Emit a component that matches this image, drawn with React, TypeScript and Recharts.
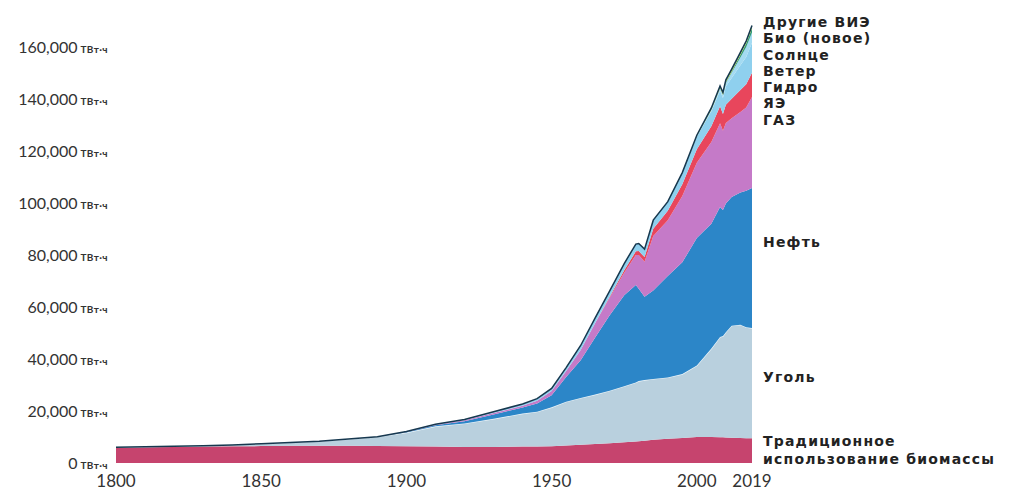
import { AreaChart, Area, XAxis, YAxis } from "recharts";

const years = [
  1800, 1810, 1820, 1830, 1840, 1850, 1860, 1870, 1880, 1890, 1900, 1910, 1920,
  1930, 1940, 1945, 1950, 1955, 1960, 1965, 1970, 1975, 1979, 1980, 1982, 1985,
  1990, 1995, 2000, 2005, 2008, 2009, 2010, 2012, 2015, 2017, 2019,
];

// TWh per source
const biomass = [
  6000, 6100, 6200, 6300, 6400, 6500, 6600, 6600, 6600, 6500, 6400, 6300, 6200,
  6200, 6300, 6300, 6400, 6700, 7000, 7300, 7600, 8000, 8300, 8400, 8600, 8900,
  9300, 9600, 10000, 10000, 9900, 9900, 9800, 9700, 9600, 9500, 9500,
];
const coal = [
  100, 150, 250, 350, 550, 900, 1300, 1800, 2600, 3600, 5300, 7800, 9000,
  10800, 12700, 13400, 15000, 16900, 18000, 19000, 20200, 21500, 22700, 23100,
  23300, 23400, 23600, 24600, 27500, 34000, 38600, 38900, 40500, 43100, 43600,
  42700, 42400,
];
const oil = [
  0, 0, 0, 0, 0, 0, 0, 0, 0, 0, 200, 400, 900, 1700, 2300, 3200, 4700, 9500,
  14500, 22000, 29000, 35000, 37500, 35500, 32000, 34000, 39000, 43000, 49000,
  48000, 50000, 48500, 49500, 49500, 50800, 52500, 53900,
];
const gas = [
  0, 0, 0, 0, 0, 0, 0, 0, 0, 0, 100, 200, 300, 500, 700, 1000, 1600, 2300, 4000,
  5500, 6800, 8700, 11500, 13000, 13500, 21000, 21500, 25500, 29000, 31500,
  32200, 30500, 31000, 30300, 31000, 32000, 35000,
];
const nuclear = [
  0, 0, 0, 0, 0, 0, 0, 0, 0, 0, 0, 0, 0, 0, 0, 0, 0, 0, 0, 50, 300, 900, 1400,
  1500, 1800, 2800, 3600, 4500, 5200, 6000, 6500, 6400, 7000, 7500, 8500, 9000,
  9300,
];
const hydro = [
  0, 0, 0, 0, 0, 0, 0, 0, 0, 0, 100, 200, 300, 500, 700, 850, 1000, 1300, 1700,
  2000, 2300, 2600, 2800, 2900, 3000, 3200, 3400, 4200, 4800, 5800, 6000, 6200,
  7000, 8000, 9500, 10500, 11500,
];
const wind = [
  0, 0, 0, 0, 0, 0, 0, 0, 0, 0, 0, 0, 0, 0, 0, 0, 0, 0, 0, 0, 0, 0, 0, 0, 0, 0,
  0, 50, 150, 500, 900, 1100, 1400, 2000, 3000, 3800, 4000,
];
const solar = [
  0, 0, 0, 0, 0, 0, 0, 0, 0, 0, 0, 0, 0, 0, 0, 0, 0, 0, 0, 0, 0, 0, 0, 0, 0, 0,
  0, 0, 0, 50, 100, 150, 200, 400, 900, 1300, 1600,
];
const bioNew = [
  0, 0, 0, 0, 0, 0, 0, 0, 0, 0, 0, 0, 0, 0, 0, 0, 0, 0, 0, 0, 0, 0, 0, 0, 0, 0,
  0, 100, 200, 400, 500, 550, 600, 600, 600, 600, 700,
];
const otherRenew = [
  0, 0, 0, 0, 0, 0, 0, 0, 0, 0, 0, 0, 0, 0, 0, 0, 0, 0, 0, 0, 0, 0, 0, 0, 50,
  100, 100, 150, 200, 300, 300, 300, 350, 400, 400, 400, 400,
];

const xTicks = [1800, 1850, 1900, 1950, 2000, 2019];
const yTicks = [0, 20000, 40000, 60000, 80000, 100000, 120000, 140000, 160000];

const series = [
  { key: "biomass", values: biomass, color: "#c6446e" },
  { key: "coal", values: coal, color: "#b9d0de" },
  { key: "oil", values: oil, color: "#2c86c8" },
  { key: "gas", values: gas, color: "#c57ac8" },
  { key: "nuclear", values: nuclear, color: "#e8465c" },
  { key: "hydro", values: hydro, color: "#8fd0ee" },
  { key: "wind", values: wind, color: "#a4dbf2" },
  { key: "solar", values: solar, color: "#2f9a7a" },
  { key: "bioNew", values: bioNew, color: "#b9d448" },
  { key: "otherRenew", values: otherRenew, color: "#1f6b50" },
];

const data = years.map((year, i) => {
  const row: Record<string, number> = { year };
  series.forEach((s) => {
    row[s.key] = s.values[i];
  });
  return row;
});

const topLabels = [
  "Другие ВИЭ",
  "Био (новое)",
  "Солнце",
  "Ветер",
  "Гидро",
  "ЯЭ",
  "ГАЗ",
];

const YTick = ({ x, y, payload }: any) => (
  <text
    x={x}
    y={y}
    dy="0.35em"
    textAnchor="end"
    fill="#333"
    fontFamily="Lato"
    fontSize={16}
  >
    <tspan>{Number(payload.value).toLocaleString("en-US")}</tspan>
    <tspan fontSize={10} fontWeight={700} letterSpacing={0.4}>
      {" ТВт·ч"}
    </tspan>
  </text>
);

const labelStyle = {
  position: "absolute" as const,
  left: 755,
  fontFamily: "DejaVu Sans",
  fontWeight: 700,
  fontSize: 14,
  letterSpacing: 1.2,
  color: "#222",
  whiteSpace: "nowrap" as const,
};

export default function App() {
  return (
    <div style={{ position: "relative", width: 1001, height: 486 }}>
      <AreaChart
        width={790}
        height={485}
        data={data}
        margin={{ top: 13, right: 46, bottom: 0, left: 0 }}
      >
        <XAxis
          dataKey="year"
          type="number"
          domain={[1800, 2019]}
          ticks={xTicks}
          interval={0}
          axisLine={false}
          tickLine={false}
          tickMargin={6}
          height={30}
          tick={{ fontSize: 17, fill: "#333", fontFamily: "Lato" }}
        />
        <YAxis
          width={108}
          domain={[0, 170000]}
          ticks={yTicks}
          interval={0}
          axisLine={false}
          tickLine={false}
          tick={(props: any) => <YTick {...props} />}
        />
        {series.map((s) => (
          <Area
            key={s.key}
            dataKey={s.key}
            stackId="1"
            type="linear"
            fill={s.color}
            fillOpacity={1}
            stroke={
              s.key === "otherRenew"
                ? "#17384f"
                : s.key === "coal"
                ? "#eef6fa"
                : "none"
            }
            strokeWidth={s.key === "otherRenew" ? 1.5 : 1.2}
            dot={false}
            activeDot={false}
            isAnimationActive={false}
          />
        ))}
      </AreaChart>

      <div style={{ ...labelStyle, top: 6, lineHeight: "16.3px" }}>
        {topLabels.map((t) => (
          <div key={t}>{t}</div>
        ))}
      </div>
      <div style={{ ...labelStyle, top: 226, lineHeight: "16px" }}>Нефть</div>
      <div style={{ ...labelStyle, top: 361, lineHeight: "16px" }}>Уголь</div>
      <div style={{ ...labelStyle, top: 424, lineHeight: "18px" }}>
        <div>Традиционное</div>
        <div>использование биомассы</div>
      </div>
    </div>
  );
}
